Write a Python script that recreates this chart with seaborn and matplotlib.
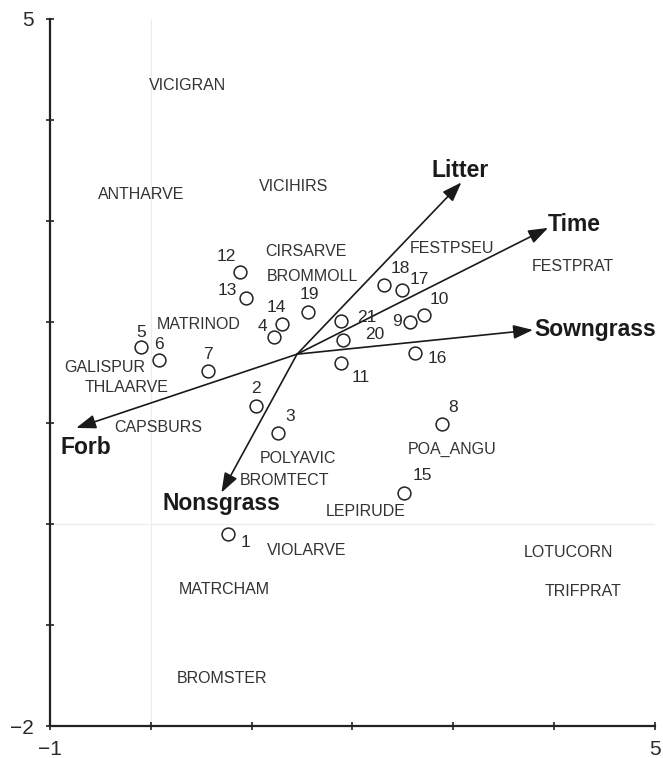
import matplotlib
matplotlib.use("Agg")
import matplotlib.pyplot as plt
import seaborn as sns
import pandas as pd

# Site scores (samples 1-21)
site_ids = [str(i) for i in range(1, 22)]
site_x = [0.77, 1.04, 1.26, 1.22, -0.10, 0.08, 0.57, 2.89, 2.57, 2.71, 1.89,
          0.88, 0.94, 1.30, 2.51, 2.62, 2.49, 2.31, 1.56, 1.91, 1.89]
site_y = [-0.10, 1.17, 0.90, 1.85, 1.75, 1.62, 1.51, 0.99, 2.00, 2.07, 1.59,
          2.49, 2.24, 1.98, 0.31, 1.69, 2.32, 2.36, 2.10, 1.82, 2.01]

# Species scores
species = ["VICIGRAN", "ANTHARVE", "VICIHIRS", "CIRSARVE", "BROMMOLL", "FESTPSEU",
           "FESTPRAT", "MATRINOD", "GALISPUR", "THLAARVE", "CAPSBURS", "POLYAVIC",
           "BROMTECT", "POA_ANGU", "LEPIRUDE", "VIOLARVE", "LOTUCORN", "TRIFPRAT",
           "MATRCHAM", "BROMSTER"]
species_x = [0.36, -0.10, 1.42, 1.54, 1.60, 2.99, 4.19, 0.47, -0.46, -0.24, 0.07,
             1.46, 1.33, 2.99, 2.13, 1.55, 4.14, 4.29, 0.73, 0.71]
species_y = [4.34, 3.26, 3.34, 2.70, 2.45, 2.73, 2.55, 1.97, 1.55, 1.35, 0.95,
             0.65, 0.43, 0.74, 0.12, -0.26, -0.28, -0.67, -0.65, -1.53]

# Environmental variables (arrow tips), arrows start at the centroid
env_names = ["Litter", "Time", "Sowngrass", "Forb", "Nonsgrass"]
env_x = [3.08, 3.94, 3.79, -0.74, 0.70]
env_y = [3.38, 2.93, 1.92, 0.95, 0.31]
origin = (1.45, 1.68)

# label placement (pixels / data units)
site_offsets = {
    "1": (17, -8), "2": (0, 17), "3": (12, 16), "4": (-11, 11), "5": (0, 15),
    "6": (0, 16), "7": (0, 17), "8": (11, 16), "9": (-13, 0), "10": (15, 15),
    "11": (19, -14), "12": (-13, 16), "13": (-18, 7), "14": (-6, 16),
    "15": (18, 17), "16": (22, -5), "17": (17, 10), "18": (17, 17),
    "19": (1, 17), "20": (31, 6), "21": (25, 3),
}
env_label_pos = {
    "Litter": (3.07, 3.50, "center"),
    "Time": (3.94, 2.96, "left"),
    "Sowngrass": (3.80, 1.92, "left"),
    "Forb": (-0.64, 0.76, "center"),
    "Nonsgrass": (0.70, 0.20, "center"),
}

sns.set_style("white")
plt.rcParams["font.family"] = ["Liberation Sans", "DejaVu Sans"]

fig = plt.figure(figsize=(6.63, 7.58), dpi=100)
ax = fig.add_axes([0.0754, 0.0422, 0.9125, 0.9331])

ink = "#2a2a2a"

ax.axhline(0, color="#ececec", lw=0.8, zorder=0)
ax.axvline(0, color="#ececec", lw=0.8, zorder=0)

# arrows
for name, ex, ey in zip(env_names, env_x, env_y):
    ax.annotate("", xy=(ex, ey), xytext=origin,
                arrowprops=dict(arrowstyle="-|>,head_length=0.7,head_width=0.25",
                                color="#1a1a1a", lw=1.2,
                                mutation_scale=17, shrinkA=0, shrinkB=0))
    lx, ly, ha = env_label_pos[name]
    ax.text(lx, ly, name, fontsize=16.5, fontweight="bold", color="#1a1a1a",
            ha=ha, va="center")

# sites
sites = pd.DataFrame({"x": site_x, "y": site_y, "id": site_ids})
sns.scatterplot(data=sites, x="x", y="y", ax=ax, marker="o", s=85,
                facecolor="white", edgecolor="#222222", linewidth=1.1,
                zorder=3, legend=False)
for sid, sx, sy in zip(site_ids, site_x, site_y):
    dx, dy = site_offsets[sid]
    ax.annotate(sid, (sx, sy), xytext=(dx, dy), textcoords="offset pixels",
                ha="center", va="center", fontsize=12.5, color=ink)

# species
for sp, sx, sy in zip(species, species_x, species_y):
    ax.text(sx, sy, sp, fontsize=11.5, color="#333333", ha="center", va="center")

ax.set_xlim(-1, 5)
ax.set_ylim(-2, 5)
ax.set_xticks(range(-1, 6))
ax.set_yticks(range(-2, 6))
ax.set_xticklabels(["\u22121", "", "", "", "", "", "5"])
ax.set_yticklabels(["\u22122", "", "", "", "", "", "", "5"])
ax.tick_params(axis="both", direction="inout", length=6, width=1.2,
               color="#222222", labelsize=15, labelcolor=ink,
               bottom=True, left=True)
ax.tick_params(axis="x", pad=7)
ax.tick_params(axis="y", pad=9)
ax.set_xlabel("")
ax.set_ylabel("")
sns.despine(ax=ax)
for side in ["left", "bottom"]:
    ax.spines[side].set_color("#222222")
    ax.spines[side].set_linewidth(1.6)

fig.savefig("out.png", dpi=100)
